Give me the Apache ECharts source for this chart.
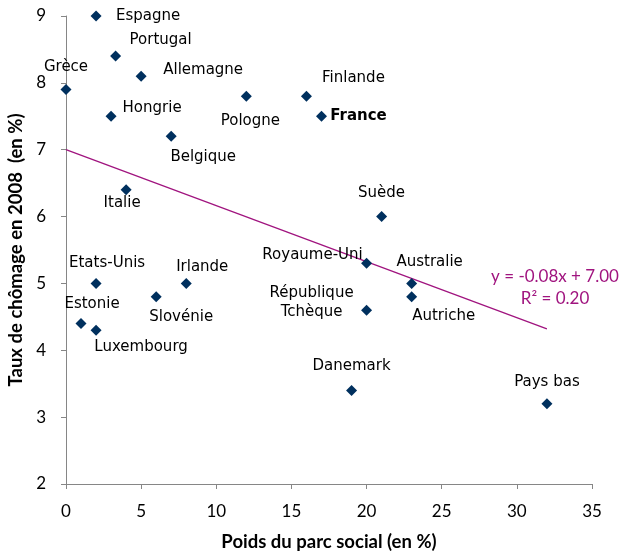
<!DOCTYPE html>
<html>
<head>
<meta charset="utf-8">
<script src="https://cdn.jsdelivr.net/npm/echarts@6/dist/echarts.min.js"></script>
<style>html,body{margin:0;padding:0;background:#fff}#c{width:621px;height:555px}</style>
</head>
<body>
<div id="c"></div>
<script>
// Data
var countries = ["Espagne","Portugal","Allemagne","Grèce","Hongrie","Belgique","Pologne","Finlande","France","Italie","Suède","Royaume-Uni","Australie","Autriche","République\nTchèque","Danemark","Pays bas","Etats-Unis","Irlande","Slovénie","Estonie","Luxembourg"];
var parcSocial = [2, 3.3, 5, 0, 3, 7, 12, 16, 17, 4, 21, 20, 23, 23, 20, 19, 32, 2, 8, 6, 1, 2];
var chomage    = [9, 8.4, 8.1, 7.9, 7.5, 7.2, 7.8, 7.8, 7.5, 6.4, 6.0, 5.3, 5.0, 4.8, 4.6, 3.4, 3.2, 5.0, 5.0, 4.8, 4.4, 4.3];
var trendX = [0, 32];
var trendY = [7.0, 4.32];
var xTicks = [0, 5, 10, 15, 20, 25, 30, 35];
var yTicks = [2, 3, 4, 5, 6, 7, 8, 9];
var equationText = ['y = -0.08x + 7.00', 'R² = 0.20'];

// Label layout (pixel offsets from marker centre)
var labelOffsets = {
  "Espagne":[52,0],"Portugal":[45,-16],"Allemagne":[62,-6],"Grèce":[0,-22],"Hongrie":[41,-8],
  "Belgique":[32,21],"Pologne":[4,25],"Finlande":[47,-18],"France":[37,0],"Italie":[-4,13],
  "Suède":[0,-23],"Royaume-Uni":[-54,-8],"Australie":[18,-21],"Autriche":[32,19],
  "République\nTchèque":[-55,-8],"Danemark":[0,-24],"Pays bas":[0,-22],"Etats-Unis":[11,-20],
  "Irlande":[16,-16],"Slovénie":[25,20],"Estonie":[11,-19],"Luxembourg":[45,17]
};

var pts = countries.map(function(n,i){
  var o = {name:n, value:[parcSocial[i], chomage[i]],
    label:{offset:labelOffsets[n]}};
  if (n === "France") o.label.fontWeight = 'bold';
  return o;
});

var chart = echarts.init(document.getElementById('c'), null, {renderer:'canvas'});
var axisFont = "Lato, 'Open Sans', sans-serif";
chart.setOption({
  animation:false,
  grid:{left:66, right:29, top:16, bottom:71, outerBoundsMode:'none', containLabel:false},
  xAxis:{
    type:'value', min:xTicks[0], max:xTicks[xTicks.length-1], interval:5,
    name:'Poids du parc social (en %)', nameLocation:'middle', nameGap:49,
    nameTextStyle:{fontFamily:axisFont, fontWeight:'bold', fontSize:18.5, color:'#000'},
    axisLine:{lineStyle:{color:'#868686'}},
    axisTick:{show:true, length:5, lineStyle:{color:'#868686'}},
    axisLabel:{margin:19, fontFamily:axisFont, fontSize:17, color:'#000'},
    splitLine:{show:false}
  },
  yAxis:{
    type:'value', min:yTicks[0], max:yTicks[yTicks.length-1], interval:1,
    name:'Taux de chômage en 2008  (en %)', nameLocation:'middle', nameGap:40,
    nameTextStyle:{fontFamily:axisFont, fontWeight:'bold', fontSize:18.5, color:'#000'},
    axisLine:{show:true, lineStyle:{color:'#868686'}},
    axisTick:{show:true, length:5, lineStyle:{color:'#868686'}},
    axisLabel:{margin:20, fontFamily:axisFont, fontSize:17, color:'#000'},
    splitLine:{show:false}
  },
  series:[
    {
      type:'line', data:trendX.map(function(x,i){return [x, trendY[i]];}),
      symbol:'none', lineStyle:{color:'#A0147F', width:1.3}, z:1, silent:true
    },
    {
      type:'scatter', data:pts, symbol:'diamond', symbolSize:[11,11],
      itemStyle:{color:'#00305E', opacity:1}, z:3,
      label:{show:true, position:'inside', formatter:'{b}',
        fontFamily:"'DejaVu Sans', Verdana, sans-serif", fontSize:15, color:'#000',
        textBorderWidth:0, textBorderColor:'transparent',
        align:'center', verticalAlign:'middle', lineHeight:19}
    }
  ],
  graphic:[
    {type:'text', x:555, y:288, style:{text:equationText.join('\n'), fill:'#A0147F',
      font:"17px Lato, 'Open Sans', sans-serif", textAlign:'center', textVerticalAlign:'middle', lineHeight:22}}
  ]
});
</script>
</body>
</html>
